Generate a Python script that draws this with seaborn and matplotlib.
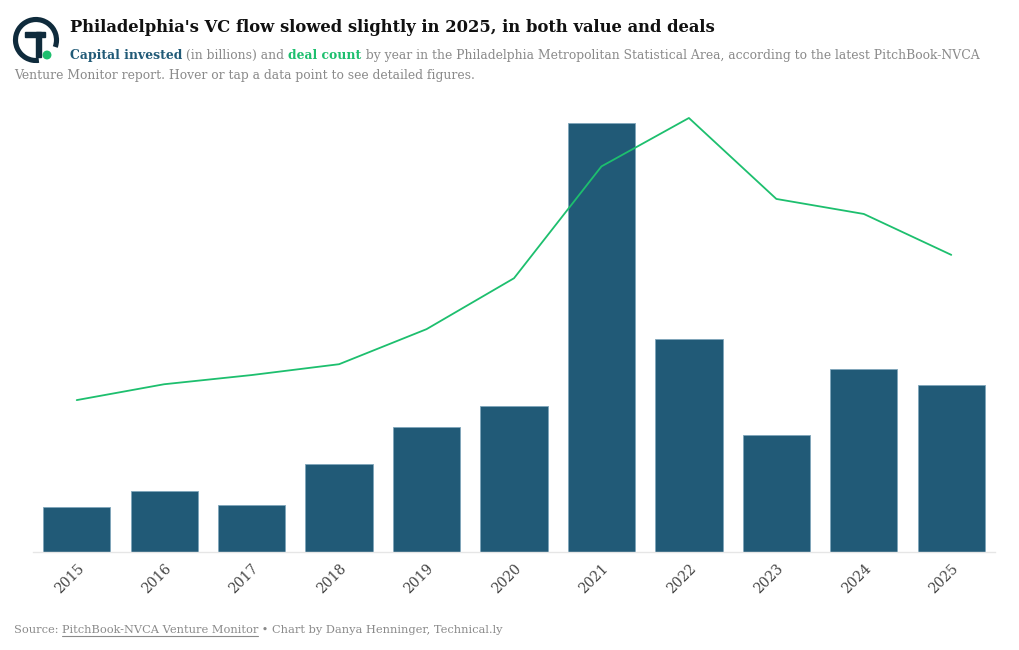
import numpy as np
import pandas as pd
import seaborn as sns
import matplotlib.pyplot as plt
from matplotlib.patches import Arc, Circle, Rectangle

# data
years = ['2015', '2016', '2017', '2018', '2019', '2020', '2021', '2022', '2023', '2024', '2025']
capital = [0.60, 0.81, 0.63, 1.17, 1.67, 1.95, 5.72, 2.84, 1.56, 2.44, 2.23]   # $B
deals = [182, 201, 212, 225, 267, 328, 462, 520, 423, 405, 356]

navy = '#215a77'
green = '#1dbf6e'
grey = '#8a8a8a'

sns.set_style('white')
plt.rcParams['font.family'] = ['DejaVu Serif']

W, H = 1020, 650
fig = plt.figure(figsize=(W / 100, H / 100), dpi=100)

# main axes
ax = fig.add_axes([33 / W, (H - 552) / H, (995 - 33) / W, (552 - 110) / H])
df = pd.DataFrame({'year': years, 'capital': capital, 'deals': deals})
sns.barplot(data=df, x='year', y='capital', color=navy, saturation=1, width=0.77,
            edgecolor='#7fa6ba', linewidth=0.6, ax=ax)
ax.set_ylim(0, max(capital) * 1.03)
ax.set_xlim(-0.5, len(years) - 0.5)
ax.set_xlabel('')
ax.set_ylabel('')
ax.set_yticks([])
for s in ['top', 'right', 'left']:
    ax.spines[s].set_visible(False)
ax.spines['bottom'].set_color('#e6e6e6')
ax.spines['bottom'].set_linewidth(1)
ax.tick_params(axis='x', colors='#e6e6e6', length=6, width=1, labelcolor='#444444',
               labelsize=10, pad=1)
for lab in ax.get_xticklabels():
    lab.set_rotation(45)
    lab.set_ha('right')
    lab.set_va('top')
    lab.set_rotation_mode('anchor')

ax2 = ax.twinx()
sns.lineplot(x=np.arange(len(years)), y=deals, color=green, linewidth=1.3, ax=ax2)
ax2.set_ylim(0, max(deals) * 1.0184)
ax2.set_yticks([])
for s in ax2.spines.values():
    s.set_visible(False)
ax2.set_xlim(-0.5, len(years) - 0.5)

# text runs, sized to the reference widths
fig.canvas.draw()
rend = fig.canvas.get_renderer()


def width_of(parts, size):
    tot = 0
    for s, kw in parts:
        t = fig.text(0, 0, s, fontsize=size, **kw)
        tot += t.get_window_extent(rend).width
        t.remove()
    return tot


def runs(x, y, parts, size):
    out = []
    for s, kw in parts:
        t = fig.text(x / W, 1 - y / H, s, fontsize=size, va='baseline', ha='left', **kw)
        bb = t.get_window_extent(rend)
        out.append((t, x, bb.width))
        x += bb.width
    return out


title = [("Philadelphia's VC flow slowed slightly in 2025, in both value and deals",
          dict(color='#111111', fontweight='bold'))]
tsize = 13 * 647 / width_of(title, 13)
runs(70, 32, title, tsize)

sub1 = [('Capital invested', dict(color=navy, fontweight='bold')),
        (' (in billions) and ', dict(color=grey)),
        ('deal count', dict(color=green, fontweight='bold')),
        (' by year in the Philadelphia Metropolitan Statistical Area, according to the latest PitchBook-NVCA',
         dict(color=grey))]
ssize = 10 * 917 / width_of(sub1, 10)
runs(70, 59, sub1, ssize)
runs(14, 79, [('Venture Monitor report. Hover or tap a data point to see detailed figures.',
               dict(color=grey))], ssize)

footp = [('Source: ', dict(color=grey)),
         ('PitchBook-NVCA Venture Monitor', dict(color=grey)),
         (' \u2022 Chart by Danya Henninger, Technical.ly', dict(color=grey))]
fsize = 10 * 490 / width_of(footp, 10)
foot = runs(14, 633, footp, fsize)
_, ux, uw = foot[1]
fig.add_artist(plt.Line2D([ux / W, (ux + uw) / W], [1 - 636 / H, 1 - 636 / H], color=grey, lw=0.8))

# logo
lg = fig.add_axes([11 / W, 1 - 65 / H, 50 / W, 50 / H])
lg.set_xlim(-1, 1)
lg.set_ylim(-1, 1)
lg.set_aspect('equal')
lg.axis('off')
dark = '#0f2b3c'
lg.add_patch(Arc((0, 0), 1.64, 1.64, theta1=-20, theta2=278, lw=3.7, color=dark))
lg.add_patch(Rectangle((-0.44, 0.12), 0.8, 0.2, color=dark))
lg.add_patch(Rectangle((0.0, -0.68), 0.2, 1.0, color=dark))
lg.add_patch(Circle((0.44, -0.6), 0.15, color=green))

fig.savefig('out.png', dpi=100)
